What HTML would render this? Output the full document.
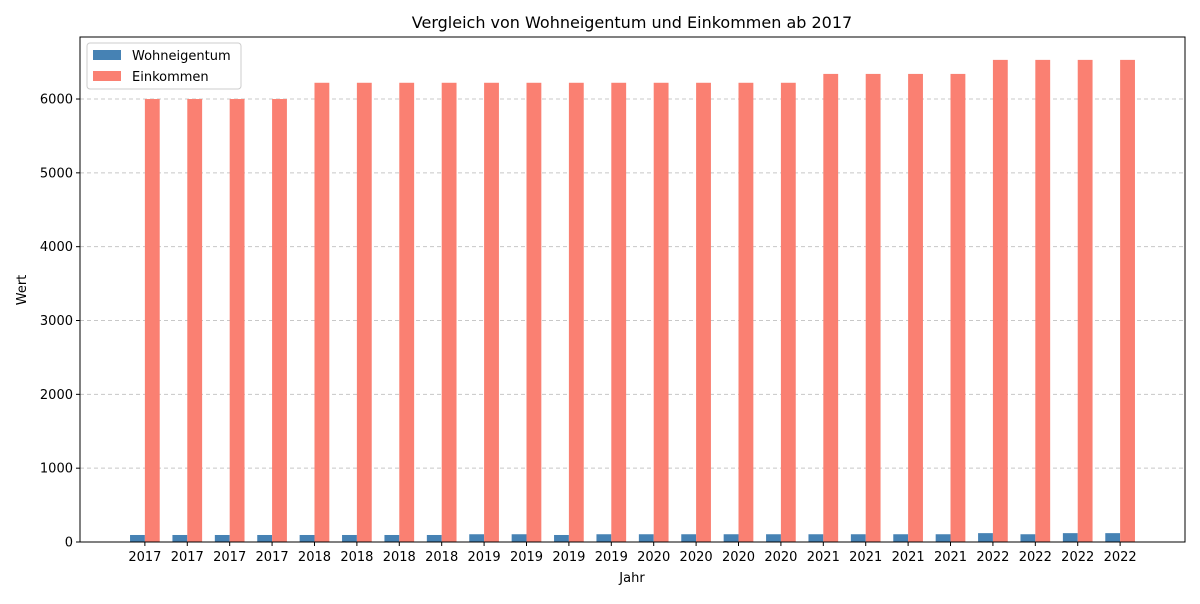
<!DOCTYPE html>
<html><head><meta charset="utf-8"><style>
body{margin:0;background:#fff;font-family:"DejaVu Sans",sans-serif}
</style></head><body>
<svg id="chart" width="1200" height="600" xmlns="http://www.w3.org/2000/svg" font-family="DejaVu Sans, sans-serif">
<rect width="1200" height="600" fill="#fff"/>
<text x="632" y="28" font-size="16" text-anchor="middle">Vergleich von Wohneigentum und Einkommen ab 2017</text>
<g id="grid"></g><g id="bars"></g><g id="axes"></g>
<text x="632" y="582" font-size="13" text-anchor="middle">Jahr</text>
<text transform="translate(26,290) rotate(-90)" font-size="13" text-anchor="middle">Wert</text>
<g>
<rect x="87" y="43" width="154" height="46" fill="#fff" stroke="#ccc" rx="3"/>
<rect x="93" y="50" width="28" height="10" fill="#4682b4"/>
<text x="132" y="60" font-size="13">Wohneigentum</text>
<rect x="93" y="71" width="28" height="10" fill="#fa8072"/>
<text x="132" y="81" font-size="13">Einkommen</text>
</g>
</svg>
<script>
const categories=["2017","2017","2017","2017","2018","2018","2018","2018","2019","2019","2019","2019","2020","2020","2020","2020","2021","2021","2021","2021","2022","2022","2022","2022"];
const wohneigentum=[95,95,95,95,95,95,95,95,105,105,95,105,105,105,105,105,105,105,105,105,120,105,120,120];
const einkommen=[6000,6000,6000,6000,6220,6220,6220,6220,6220,6220,6220,6220,6220,6220,6220,6220,6340,6340,6340,6340,6530,6530,6530,6530];
const yTicks=[0,1000,2000,3000,4000,5000,6000];
const L=80,R=1185,T=37,B=542,yMax=6840,pad=1.53;
const n=categories.length;
const unit=(R-L)/(n-1+2*pad);
const x=i=>L+(i+pad)*unit;
const y=v=>B-(v/yMax)*(B-T);
const NS="http://www.w3.org/2000/svg";
function mk(t,a,p){const e=document.createElementNS(NS,t);for(const k in a)e.setAttribute(k,a[k]);p.appendChild(e);return e;}
const grid=document.getElementById('grid'),bars=document.getElementById('bars'),axes=document.getElementById('axes');
yTicks.forEach(v=>{
 const g=mk('line',{x1:L,x2:R,y1:y(v),y2:y(v),stroke:'#c8c8c8','stroke-dasharray':'4,3'},grid);
 
 
 mk('line',{x1:L-4,x2:L,y1:y(v),y2:y(v),stroke:'#000'},axes);
 const t=mk('text',{x:L-7,y:y(v)+4.5,'font-size':13,'text-anchor':'end'},axes);t.textContent=v;
 
 
});
const bw=0.35*unit;
categories.forEach((c,i)=>{
 const cx=x(i);
 const b1=mk('rect',{x:cx-bw,y:y(wohneigentum[i]),width:bw,height:B-y(wohneigentum[i]),fill:'#4682b4'},bars);
 
 
 const b2=mk('rect',{x:cx,y:y(einkommen[i]),width:bw,height:B-y(einkommen[i]),fill:'#fa8072'},bars);
 
 
 mk('line',{x1:cx,x2:cx,y1:B,y2:B+4,stroke:'#000'},axes);
 const t=mk('text',{x:cx,y:B+19,'font-size':13,'text-anchor':'middle'},axes);t.textContent=c;
 
 
});
const f=mk('rect',{x:L,y:T,width:R-L,height:B-T,fill:'none',stroke:'#000'},axes);


</script>
</body></html>
